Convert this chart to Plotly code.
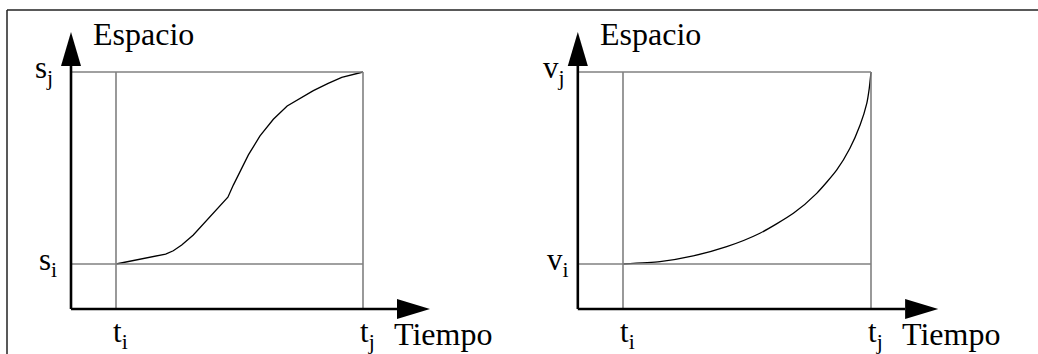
import plotly.graph_objects as go

# ---------------- data (normalised: t_i=0, t_j=1 ; s_i=0, s_j=1) ----------------
y_title = "Espacio"
x_title = "Tiempo"
left_y_labels = ["s<sub>i</sub>", "s<sub>j</sub>"]
right_y_labels = ["v<sub>i</sub>", "v<sub>j</sub>"]
x_labels = ["t<sub>i</sub>", "t<sub>j</sub>"]
tick_pos = [0, 1]

left_t = [0, 0.201, 0.232, 0.266, 0.313, 0.381, 0.453, 0.475, 0.502, 0.536,
          0.583, 0.637, 0.693, 0.745, 0.799, 0.859, 0.914, 1.0]
left_s = [0, 0.052, 0.069, 0.099, 0.151, 0.247, 0.348, 0.411, 0.481, 0.568,
          0.667, 0.754, 0.823, 0.863, 0.903, 0.941, 0.972, 1.0]

right_t = [0, 0.149, 0.283, 0.418, 0.552, 0.687, 0.781, 0.862, 0.915, 0.956,
           0.983, 0.993, 1.0]
right_s = [0, 0.012, 0.042, 0.090, 0.160, 0.264, 0.368, 0.490, 0.603, 0.724,
           0.837, 0.915, 1.0]

# ---------------- geometry ----------------
W, H = 1038, 354
FONT = "Liberation Serif, Times New Roman, serif"
X0_L, SX_L = 116, 247     # pixel of t=0 and pixels per unit (left)
X0_R, SX_R = 623, 248     # right panel
Y0, SY = 264, 192         # pixel of s=0 and pixels per unit

t_axis = -45 / 247        # y-axis position (45 px left of t_i)
s_axis = -45 / 192        # x-axis position (45 px below s_i)
s_top = (Y0 - 32) / SY    # arrow tip (vertical)
s_top_base = (Y0 - 66) / SY
t_tip = 1 + 67 / 247
t_tip_base = 1 + 34 / 247
aw_x = 10 / 247
aw_y = 10 / 192

fig = go.Figure()
fig.add_trace(go.Scatter(x=left_t, y=left_s, mode="lines",
                         line=dict(color="black", width=1.3),
                         xaxis="x", yaxis="y", showlegend=False, hoverinfo="skip"))
fig.add_trace(go.Scatter(x=right_t, y=right_s, mode="lines",
                         line=dict(color="black", width=1.3, shape="spline", smoothing=0.6),
                         xaxis="x2", yaxis="y", showlegend=False, hoverinfo="skip"))

shapes = []
annotations = []
tf = dict(family=FONT, size=31, color="black")
title_font = dict(family=FONT, size=32, color="black")
label_xshift = {"x": [-12, -16], "x2": [-7, -11]}
for xr, ylabels in (("x", left_y_labels), ("x2", right_y_labels)):
    gray = dict(color="#808080", width=1.6)
    # guide lines
    for sv in tick_pos:
        shapes.append(dict(type="line", xref=xr, yref="y", x0=t_axis, x1=1, y0=sv, y1=sv, line=gray))
    for tv in tick_pos:
        shapes.append(dict(type="line", xref=xr, yref="y", x0=tv, x1=tv, y0=s_axis, y1=1, line=gray))
    # axes
    ax = dict(color="black", width=2.6)
    shapes.append(dict(type="line", xref=xr, yref="y", x0=t_axis, x1=t_axis, y0=s_axis, y1=s_top_base, line=ax))
    shapes.append(dict(type="line", xref=xr, yref="y", x0=t_axis, x1=t_tip_base, y0=s_axis, y1=s_axis, line=ax))
    # arrow heads
    shapes.append(dict(type="path", xref=xr, yref="y",
                       path=f"M {t_axis-aw_x} {s_top_base} L {t_axis+aw_x} {s_top_base} L {t_axis} {s_top} Z",
                       fillcolor="black", line=dict(color="black", width=0)))
    shapes.append(dict(type="path", xref=xr, yref="y",
                       path=f"M {t_tip_base} {s_axis-aw_y} L {t_tip_base} {s_axis+aw_y} L {t_tip} {s_axis} Z",
                       fillcolor="black", line=dict(color="black", width=0)))
    # titles
    annotations.append(dict(xref=xr, yref="y", x=t_axis, y=s_top, text=y_title, showarrow=False,
                            xanchor="left", yanchor="middle", xshift=20, yshift=-2,
                            font=title_font))
    annotations.append(dict(xref=xr, yref="y", x=t_tip, y=s_axis, text=x_title, showarrow=False,
                            xanchor="left", yanchor="top", xshift=-38, yshift=-5,
                            font=title_font))
    # y labels
    for sv, lab, xs in zip(tick_pos, ylabels, label_xshift[xr]):
        annotations.append(dict(xref=xr, yref="y", x=t_axis, y=sv, text=lab, showarrow=False,
                                xanchor="right", yanchor="middle", xshift=xs, yshift=2,
                                font=tf))
    for tv, lab in zip(tick_pos, x_labels):
        annotations.append(dict(xref=xr, yref="y", x=tv, y=s_axis, text=lab, showarrow=False,
                                xanchor="left", yanchor="top", xshift=-5, yshift=-3,
                                font=tf))

# outer frame (top and left edges)
frame = dict(color="#222222", width=1.5)
shapes.append(dict(type="line", xref="paper", yref="paper", x0=7 / W, x1=1, y0=1 - 10 / H, y1=1 - 10 / H, line=frame))
shapes.append(dict(type="line", xref="paper", yref="paper", x0=7 / W, x1=7 / W, y0=0, y1=1 - 10 / H, line=frame))

hidden = dict(visible=False, showgrid=False, zeroline=False, fixedrange=True)
fig.update_layout(
    width=W, height=H, margin=dict(l=0, r=0, t=0, b=0),
    paper_bgcolor="white", plot_bgcolor="white",
    xaxis=dict(range=[-X0_L / SX_L, (W - X0_L) / SX_L], domain=[0, 1], **hidden),
    xaxis2=dict(range=[-X0_R / SX_R, (W - X0_R) / SX_R], domain=[0, 1], overlaying="x", anchor="y", **hidden),
    yaxis=dict(range=[(Y0 - H) / SY, Y0 / SY], domain=[0, 1], **hidden),
    shapes=shapes, annotations=annotations, showlegend=False,
)
fig.write_html("out.html", config={"displayModeBar": False},
               post_script="document.body.style.margin='0';document.body.style.overflow='hidden';")
